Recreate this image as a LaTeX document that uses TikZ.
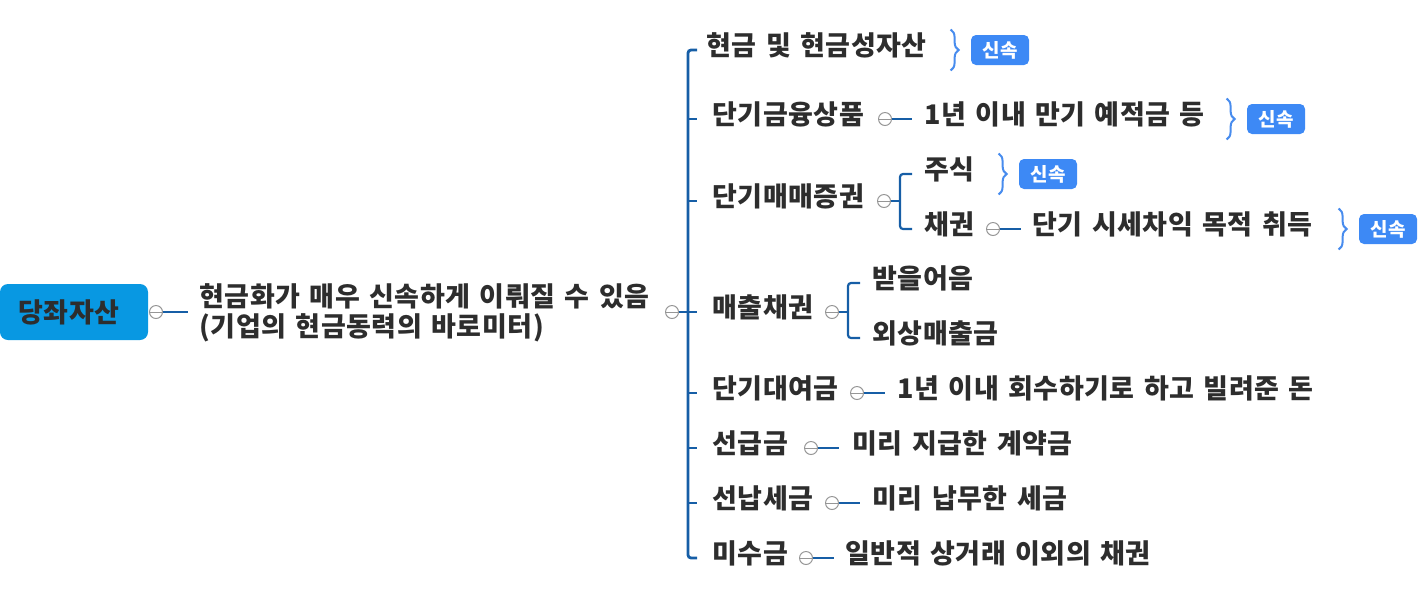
\documentclass[tikz,border=0pt]{standalone}
\usepackage{fontspec}
\setmainfont{Noto Sans CJK KR}[WordSpace=1.4, LetterSpace=2]
\usepackage{tikz}
\usetikzlibrary{positioning, decorations.pathreplacing}

\definecolor{rootblue}{RGB}{8,152,226}
\definecolor{linkblue}{RGB}{22,94,166}
\definecolor{badgeblue}{RGB}{61,137,245}
\definecolor{braceblue}{RGB}{72,140,238}
\definecolor{foldgray}{RGB}{150,150,150}
\definecolor{ink}{RGB}{45,45,45}

\begin{document}
\begin{tikzpicture}[
  x=0.5pt, y=-0.5pt,
  font=\fontsize{13.5pt}{15pt}\selectfont\bfseries,
  txt/.style={anchor=west, inner sep=0pt, text=ink, text height=0.78em, text depth=0.24em},
  root/.style={rectangle, rounded corners=4pt, fill=rootblue, text=ink,
               minimum width=74pt, minimum height=28pt, inner sep=0pt},
  fold/.style={circle, draw=foldgray, fill=white, line width=0.5pt, minimum size=6.5pt,
               inner sep=0pt, path picture={\draw[foldgray, line width=0.5pt]
               ([xshift=-3pt]path picture bounding box.center) --
               ([xshift=3pt]path picture bounding box.center);}},
  badge/.style={rectangle, rounded corners=2.5pt, fill=badgeblue, text=white,
                font=\fontsize{9.5pt}{10pt}\selectfont\bfseries,
                minimum width=29pt, minimum height=15pt, inner sep=0pt},
  link/.style={draw=linkblue, line width=1.1pt},
  spine/.style={draw=linkblue, line width=1.4pt},
  curly/.style={draw=braceblue, line width=1pt, decorate,
                decoration={brace, amplitude=4pt}}
]
\useasboundingbox (0,0) rectangle (1422,602);

% root and main statement
\node[root] (root) at (74,312) {\hspace*{-5pt}당좌자산};
\node[fold] (f0) at (156,312) {};
\node[anchor=west, inner sep=0pt, align=left, text=ink] (idea) at (199,313)
  {현금화가 매우 신속하게 이뤄질 수 있음\\(기업의 현금동력의 바로미터)};
\node[fold] (f1) at (672,312) {};
\coordinate (bus) at (688,312);

% items
\node[txt] (c1) at (706,50)  {현금 및 현금성자산};
\node[txt] (c2) at (712,119) {단기금융상품};
\node[txt] (c3) at (712,201) {단기매매증권};
\node[txt] (c4) at (712,312) {매출채권};
\node[txt] (c5) at (712,393) {단기대여금};
\node[txt] (c6) at (712,448) {선급금};
\node[txt] (c7) at (712,503) {선납세금};
\node[txt] (c8) at (712,558) {미수금};

% details
\node[fold] (f2) at (885,119) {};
\node[txt] (d2) at (924,119) {1년 이내 만기 예적금 등};
\node[fold] (f3) at (884,201) {};
\coordinate (bus3) at (900,201);
\node[txt] (s1) at (924,174) {주식};
\node[txt] (s2) at (924,229) {채권};
\node[fold] (f4) at (993,229) {};
\node[txt] (d4) at (1032,229) {단기 시세차익 목적 취득};
\node[fold] (f5) at (832,312) {};
\coordinate (bus5) at (848,312);
\node[txt] (r1) at (872,283) {받을어음};
\node[txt] (r2) at (872,338) {외상매출금};
\node[fold] (f6) at (857,393) {};
\node[txt] (d6) at (897,393) {1년 이내 회수하기로 하고 빌려준 돈};
\node[fold] (f7) at (811,448) {};
\node[txt] (d7) at (852,448) {미리 지급한 계약금};
\node[fold] (f8) at (832,503) {};
\node[txt] (d8) at (872,503) {미리 납무한 세금};
\node[fold] (f9) at (806,558) {};
\node[txt] (d9) at (845,558) {일반적 상거래 이외의 채권};

% tags
\node[badge] (b1) at (1000,50)  {신속};
\node[badge] (b2) at (1276,119) {신속};
\node[badge] (b3) at (1048,174) {신속};
\node[badge] (b4) at (1388,229) {신속};
\foreach \b in {b1,b2,b3,b4}
  \draw[curly] ([shift={(-10pt,10.25pt)}]\b.west) -- ([shift={(-10pt,-10.25pt)}]\b.west);

% connectors
\draw[link] (f0.east) -- ([xshift=-5.5pt]idea.west |- f0);
\draw[spine] (f1.east) -- (bus);
\draw[spine, rounded corners=1.5pt] ([xshift=-4.5pt]c1.west) -| (bus) |- ([xshift=-7.5pt]c8.west);
\foreach \c in {c2,c3,c4,c5,c6,c7}
  \draw[spine] (\c.west -| bus) -- ([xshift=-7.5pt]\c.west);
\draw[link] (f2.east) -- ([xshift=-6pt]d2.west);
\draw[link] (f3.east) -- (bus3);
\draw[link, rounded corners=1.5pt] ([xshift=-6pt]s1.west) -| (bus3) |- ([xshift=-6pt]s2.west);
\draw[link] (f4.east) -- ([xshift=-5.5pt]d4.west);
\draw[link] (f5.east) -- (bus5);
\draw[link, rounded corners=1.5pt] ([xshift=-6pt]r1.west) -| (bus5) |- ([xshift=-6pt]r2.west);
\draw[link] (f6.east) -- ([xshift=-6pt]d6.west);
\draw[link] (f7.east) -- ([xshift=-6.5pt]d7.west);
\draw[link] (f8.east) -- ([xshift=-6pt]d8.west);
\draw[link] (f9.east) -- ([xshift=-5.5pt]d9.west);
\end{tikzpicture}
\end{document}
